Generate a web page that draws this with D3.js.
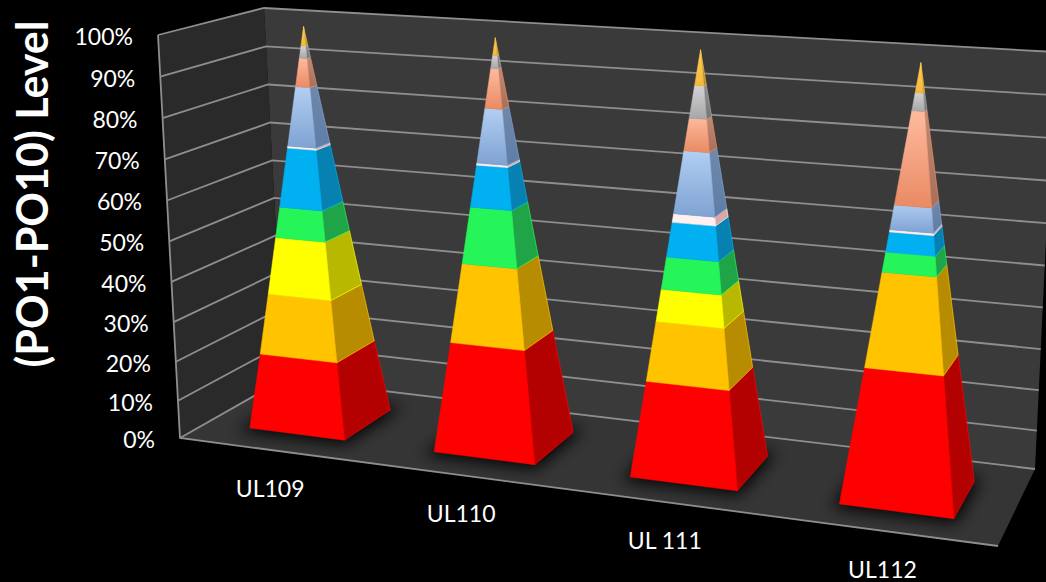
<!DOCTYPE html>
<html>
<head>
<meta charset="utf-8">
<title>PO level</title>
<script src="https://cdnjs.cloudflare.com/ajax/libs/d3/7.8.5/d3.min.js"></script>
<style>
  html, body { margin: 0; background: #000; overflow: hidden; }
  svg { display: block; }
  text { font-family: Lato, "Open Sans", sans-serif; fill: #fff; }
</style>
</head>
<body>
<svg id="chart" width="1046" height="582"></svg>
<script>
const categories = ["UL109", "UL110", "UL 111", "UL112"];
const tickValues = [0, 10, 20, 30, 40, 50, 60, 70, 80, 90, 100];

// share of each level per category, bottom of the stack first
const po1 = [19.3, 27.3, 23.3, 31.8];
const po2 = [15, 19, 14, 21.5];
const po3 = [14, 0, 7.5, 0];
const po4 = [7.5, 13.5, 7.5, 4.5];
const po5 = [14.5, 10, 8, 4.5];
const po6 = [0.5, 0.5, 2, 0.5];
const po7 = [14.5, 13, 14.5, 5.5];
const po8 = [7, 9.5, 7.5, 21];
const po9 = [3, 3, 7.5, 4];
const po10 = [4.7, 4.2, 8.2, 6.7];

const levels = [po1, po2, po3, po4, po5, po6, po7, po8, po9, po10];
const levelKeys = levels.map((d, i) => "PO" + (i + 1));

// [front top, front bottom, side top, side bottom]
const levelColors = [
  ["#ff0000", "#ff0000", "#b30000", "#b30000"],
  ["#ffc300", "#ffc300", "#b88c00", "#b88c00"],
  ["#ffff00", "#ffff00", "#b8b800", "#b8b800"],
  ["#25f558", "#25f558", "#1fa547", "#1fa547"],
  ["#00b0f0", "#00b0f0", "#0780b2", "#0780b2"],
  ["#fff0f0", "#fff0f0", "#d8a8a8", "#d8a8a8"],
  ["#b4d0f4", "#7fa2d2", "#7088ab", "#5f7da6"],
  ["#ffbb9f", "#e98a63", "#bf8a74", "#a96f57"],
  ["#d4d4d4", "#a6a6a6", "#8f8f8f", "#757575"],
  ["#ffcf55", "#f2b93c", "#c09a3a", "#b08a30"]
];

const svg = d3.select("#chart");
const defs = svg.append("defs");

// corners of the chart box as seen in the picture
const floorQuad = [[180, 438], [998, 546], [1035, 469], [284, 379]];
const ceilQuad = [[158, 35], [1018, 88], [1055, 52], [264, 8]];

function homography(q) {
  const [[x0, y0], [x1, y1], [x2, y2], [x3, y3]] = q;
  const dx1 = x1 - x2, dx2 = x3 - x2, sx = x0 - x1 + x2 - x3;
  const dy1 = y1 - y2, dy2 = y3 - y2, sy = y0 - y1 + y2 - y3;
  const den = dx1 * dy2 - dx2 * dy1;
  const g = (sx * dy2 - dx2 * sy) / den;
  const h = (dx1 * sy - sx * dy1) / den;
  const a = x1 - x0 + g * x1, b = x3 - x0 + h * x3;
  const d = y1 - y0 + g * y1, e = y3 - y0 + h * y3;
  return (u, v) => {
    const w = g * u + h * v + 1;
    return [(a * u + b * v + x0) / w, (d * u + e * v + y0) / w];
  };
}

const floorAt = homography(floorQuad);
const ceilAt = homography(ceilQuad);

const y = d3.scalePow().exponent(1.035).domain([0, 100]).range([0, 1]);
const x = d3.scaleBand().domain(categories).range([0, 1]).paddingInner(0.48).paddingOuter(0.24);

// u across the categories, v is the value, z from the front (0) to the back wall (1)
function project(u, v, z) {
  const a = floorAt(u, z), b = ceilAt(u, z), t = y(v);
  return [a[0] + (b[0] - a[0]) * t, a[1] + (b[1] - a[1]) * t];
}

const line = d3.line();
const poly = pts => line(pts) + "Z";

// walls and floor
const g = svg.append("g");
g.append("path").attr("fill", "#2a2a2a")
  .attr("d", poly([project(0, 0, 0), project(0, 0, 1), project(0, 100, 1), project(0, 100, 0)]));
g.append("path").attr("fill", "#3a3a3a")
  .attr("d", poly([project(0, 0, 1), project(1, 0, 1), project(1, 100, 1), project(0, 100, 1)]));
g.append("path").attr("fill", "#353535")
  .attr("d", poly([project(0, 0, 0), project(1, 0, 0), project(1, 0, 1), project(0, 0, 1)]));

defs.append("filter").attr("id", "blur")
  .attr("x", "-40%").attr("y", "-40%").attr("width", "180%").attr("height", "180%")
  .append("feGaussianBlur").attr("stdDeviation", 8);
defs.append("clipPath").attr("id", "floorClip").append("path")
  .attr("d", poly([project(0, 0, 0), project(1, 0, 0), project(1, 0, 1), project(0, 0, 1)]));

// gridlines
g.selectAll(".grid").data(tickValues).join("path")
  .attr("class", "grid")
  .attr("fill", "none").attr("stroke", "#8e8e8e").attr("stroke-width", 1.8)
  .attr("d", d => line([project(0, d, 0), project(0, d, 1), project(1, d, 1)]));
g.append("path").attr("fill", "none").attr("stroke", "#8e8e8e").attr("stroke-width", 1.8)
  .attr("d", line([project(0, 100, 0), project(0, 0, 0), project(1, 0, 0)]));

// axis labels
svg.selectAll(".tick").data(tickValues).join("text")
  .attr("class", "tick")
  .attr("x", d => project(0, d, 0)[0] - 25)
  .attr("y", d => project(0, d, 0)[1] + 1)
  .attr("text-anchor", "end").attr("dominant-baseline", "central")
  .attr("font-size", 23)
  .text(d => d + "%");

svg.append("text")
  .attr("transform", "translate(31,194) rotate(-90)")
  .attr("text-anchor", "middle").attr("dominant-baseline", "central")
  .attr("font-size", 43).attr("font-weight", 700)
  .text("(PO1-PO10) Level");

svg.selectAll(".cat").data(categories).join("text")
  .attr("class", "cat")
  .attr("x", d => project(x(d) + x.bandwidth() / 2, 0, 0)[0] - 1)
  .attr("y", d => project(x(d) + x.bandwidth() / 2, 0, 0)[1] + 38)
  .attr("text-anchor", "middle").attr("dominant-baseline", "central")
  .attr("font-size", 23)
  .text(d => d);

// pyramids
const stacked = d3.stack().keys(levelKeys)(categories.map((c, i) => {
  const row = { category: c };
  levels.forEach((s, j) => { row[levelKeys[j]] = s[i]; });
  return row;
}));

const z0 = 0.245, z1 = 0.735, zMid = (z0 + z1) / 2;

// a point on a slanted pyramid edge at the given value
function edgePoint(cat, side, depth, v) {
  const cx = x(cat) + x.bandwidth() / 2;
  const f = 1 - v / 100;
  const u = cx + (side ? x.bandwidth() / 2 : -x.bandwidth() / 2) * f;
  const z = zMid + (depth - zMid) * f;
  return project(u, v, z);
}

function gradient(id, p0, p1, top, bottom) {
  const lg = defs.append("linearGradient").attr("id", id)
    .attr("gradientUnits", "userSpaceOnUse")
    .attr("x1", 0).attr("y1", p0).attr("x2", 0).attr("y2", p1);
  lg.append("stop").attr("offset", 0).attr("stop-color", top);
  lg.append("stop").attr("offset", 1).attr("stop-color", bottom);
  return `url(#${id})`;
}

categories.forEach((cat, c) => {
  const shadow = [[false, z0], [true, z0], [true, z1], [false, z1]].map(([s, d]) => edgePoint(cat, s, d, 0));
  svg.append("g").attr("clip-path", "url(#floorClip)")
    .append("path").attr("d", poly(shadow))
    .attr("fill", "#000").attr("fill-opacity", 0.9)
    .attr("stroke", "#000").attr("stroke-width", 8)
    .attr("filter", "url(#blur)");

  const pyramid = svg.append("g").attr("class", "pyramid");
  stacked.forEach((s, l) => {
    const [v0, v1] = s[c];
    if (v1 - v0 <= 0) return;
    const col = levelColors[l];
    const fl0 = edgePoint(cat, false, z0, v0), fr0 = edgePoint(cat, true, z0, v0);
    const fl1 = edgePoint(cat, false, z0, v1), fr1 = edgePoint(cat, true, z0, v1);
    const br0 = edgePoint(cat, true, z1, v0), br1 = edgePoint(cat, true, z1, v1);
    const top = Math.min(fl1[1], fr1[1], br1[1]), bottom = Math.max(fl0[1], fr0[1], br0[1]);
    const front = gradient(`f${c}${l}`, top, bottom, col[0], col[1]);
    const side = gradient(`s${c}${l}`, top, bottom, col[2], col[3]);
    pyramid.append("path").attr("d", poly([fr0, br0, br1, fr1]))
      .attr("fill", side).attr("stroke", col[1]).attr("stroke-width", 0.7).attr("stroke-linejoin", "round");
    pyramid.append("path").attr("d", poly([fl0, fr0, fr1, fl1]))
      .attr("fill", front).attr("stroke", front).attr("stroke-width", 0.5);
  });
});
</script>
</body>
</html>
